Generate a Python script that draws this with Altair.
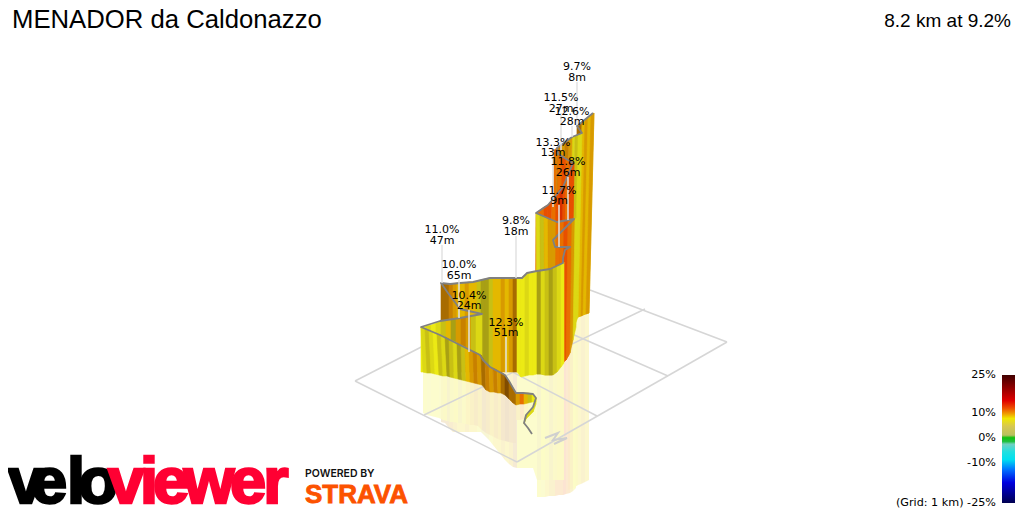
import altair as alt
import pandas as pd

# ---------- colour palette for wall strips (letter = grade/shade class, r* = its reflection) ----------
SHADE_KEYS = list("abcdefghijkl")
SHADE_COLS = ["#ecea14", "#dcd814", "#c8c014", "#a8a014", "#e4b800", "#d89a00",
              "#c88000", "#a86c00", "#804c00", "#e87000", "#e85000", "#d83000"]
REFL_COLS = ["#fbfbc4", "#fbfbc4", "#fafac8", "#f7f5cc", "#fbf6c4", "#f9f0c6",
             "#f7eac8", "#f3e6cc", "#efe0cc", "#fbe6c8", "#fbdfca", "#f9d8cc"]

# ---------- wall sections, far to near: top edge, base edge, reflection end, shades ----------
w1a_tx = [577, 582, 585, 589, 594]
w1a_ty = [126, 122, 120, 117, 113]
w1a_bx = [575, 578, 581, 585, 589]
w1a_by = [318, 317, 316, 314, 313]
w1a_ry = [486, 485, 484, 482, 480]
w1a_s = ["h", "e", "f", "e"]

w1c_tx = [582, 585, 588, 591, 594]
w1c_ty = [133, 120, 117, 115, 113]
w1c_bx = [578, 581, 583, 586, 589]
w1c_by = [317, 316, 315, 314, 313]
w1c_ry = [485, 484, 483, 482, 480]
w1c_s = ["e", "f", "e", "f"]

w1b_tx = [572, 575, 578, 582]
w1b_ty = [137, 136, 135, 133]
w1b_bx = [568, 571, 574, 578]
w1b_by = [350, 340, 327, 317]
w1b_ry = [490, 489, 488, 485]
w1b_s = ["b", "c", "b"]

w2a_tx = [554, 557, 561, 565, 569, 572]
w2a_ty = [150, 148, 146, 143, 140, 137]
w2a_bx = [552, 555, 559, 563, 566, 569]
w2a_by = [360, 360, 360, 360, 360, 355]
w2a_ry = [494, 494, 494, 494, 494, 492]
w2a_s = ["j", "g", "f", "g", "f"]

w2b_tx = [558, 562, 566, 570, 574]
w2b_ty = [154, 156, 158, 161, 163]
w2b_bx = [556, 560, 563, 567, 571]
w2b_by = [360, 362, 362, 356, 340]
w2b_ry = [494, 494, 494, 494, 492]
w2b_s = ["j", "k", "j", "k"]

w2c_tx = [536, 540, 544, 548, 552, 556, 560, 563, 566, 569, 572, 574]
w2c_ty = [213, 210, 207, 205, 200, 194, 189, 187, 180, 173, 167, 163]
w2c_bx = [535, 539, 543, 547, 550, 554, 558, 561, 563, 566, 569, 571]
w2c_by = [360, 360, 360, 360, 360, 360, 360, 360, 362, 356, 348, 340]
w2c_s = ["j", "j", "k", "k", "j", "k", "l", "k", "j", "k", "k"]

w3_tx = [536, 540, 544, 548, 552, 556, 560, 564, 568, 572, 575, 578]
w3_ty = [213, 215, 217, 219, 220, 222, 221, 220, 220, 219, 219, 218]
w3_bx = [537, 541, 545, 549, 552, 555, 559, 563, 566, 570, 573, 576]
w3_by = [374, 374, 375, 375, 375, 372, 367, 363, 360, 353, 340, 327]
w3_ry = [497, 497, 497, 496, 496, 496, 495, 495, 494, 493, 491, 488]
w3_s = ["b", "c", "e", "f", "f", "j", "j", "k", "j", "f", "b"]

w4_tx = [441, 445, 449, 453, 457, 461, 465, 469, 473, 477, 481, 485, 489, 493, 497, 501,
         505, 509, 513, 517, 521, 525, 529, 533, 537, 541, 545, 549, 553, 557, 561, 564]
w4_ty = [283, 284, 284, 284, 283, 283, 283, 282, 282, 281, 280, 279, 278, 278, 278, 278,
         278, 278, 278, 279, 278, 275, 273, 272, 271, 270, 270, 269, 268, 266, 264, 262]
w4_by = [350, 350, 352, 354, 356, 357, 358, 360, 361, 362, 365, 367, 370, 371, 372, 372,
         372, 372, 372, 372, 377, 376, 375, 375, 374, 374, 375, 375, 375, 372, 367, 363]
w4_ry = [422, 423, 428, 432, 432, 432, 432, 432, 432, 432, 432, 436, 440, 445, 450, 455,
         460, 464, 467, 468, 468, 468, 468, 468, 480, 480, 480, 480, 480, 480, 480, 480]
w4_s = ["h", "h", "g", "f", "e", "e", "f", "e", "e", "c", "d", "d", "c", "e", "e", "f",
        "e", "f", "h", "a", "a", "b", "a", "a", "d", "b", "c", "d", "c", "b", "a"]

w5_tx = [421, 426, 431, 436, 441, 446, 451, 456, 461, 466, 471, 476, 482]
w5_ty = [327, 326, 325, 323, 321, 320, 319, 319, 318, 317, 316, 315, 314]
w5_by = [372, 372, 372, 372, 372, 372, 372, 372, 372, 372, 372, 372, 372]
w5_s = ["a", "b", "a", "b", "c", "e", "d", "f", "g", "f", "c", "b"]

f_tx = [421, 425, 429, 433, 437, 441, 445, 449, 453, 457, 461, 465, 469, 473, 477, 481,
        485, 489, 493, 497, 501, 505, 509, 513, 516]
f_ty = [327, 329, 331, 332, 334, 335, 337, 339, 341, 343, 345, 347, 349, 351, 353, 355,
        362, 366, 368, 370, 372, 375, 381, 388, 393]
f_bx = [423, 427, 431, 435, 439, 443, 447, 450, 454, 458, 462, 466, 470, 474, 478, 482,
        486, 490, 494, 498, 501, 505, 509, 513, 516]
f_by = [372, 373, 373, 374, 375, 376, 376, 377, 378, 379, 380, 381, 382, 383, 384, 385,
        390, 392, 392, 393, 393, 395, 399, 403, 405]
f_ry = [413, 415, 416, 417, 418, 420, 421, 422, 422, 423, 423, 424, 425, 425, 426, 430,
        433, 435, 437, 439, 440, 441, 442, 443, 443]
f_s = ["b", "c", "b", "a", "c", "b", "d", "c", "b", "d", "c", "e", "f", "g", "f", "h",
       "g", "f", "g", "f", "h", "i", "h", "h"]

w6_tx = [516, 520, 524, 528, 532, 536]
w6_ty = [393, 393, 393, 393, 394, 398]
w6_by = [405, 404, 404, 403, 402, 402]
w6_ry = [420, 420, 419, 418, 417, 416]
w6_s = ["f", "j", "e", "c", "a"]

w7_tx = [536, 533, 526, 524]
w7_ty = [398, 407, 415, 423]
w7_by = [404, 412, 419, 424]
w7_s = ["b", "b", "c"]

# ---------- the road line ----------
road_x = [532, 528, 524, 526, 533, 536, 533, 523, 516, 513, 509, 505, 490, 483, 480, 460, 440, 421,
          440, 460, 482, 460, 448, 441, 450, 460, 473, 490, 500, 515, 522, 527, 537, 550, 563, 563,
          565, 570, 555, 553, 563, 574, 557, 536, 548, 563, 573, 558, 557, 572, 582, 577, 582, 593]
road_y = [434, 428, 423, 415, 407, 398, 394, 393, 393, 388, 381, 375, 367, 360, 355, 345, 335, 327,
          321, 318, 314, 309, 293, 283, 284, 283, 282, 278, 278, 278, 278, 273, 271, 269, 263, 258,
          250, 247, 247, 240, 230, 219, 222, 213, 205, 187, 163, 154, 148, 137, 133, 126, 122, 113]

# ---------- ground grid ----------
grid_x1 = [355, 517, 727, 590, 424, 597, 668, 355]
grid_y1 = [381, 462, 342, 290, 415, 416, 376, 381]
grid_x2 = [517, 727, 590, 470, 645, 470, 540, 470]
grid_y2 = [462, 342, 290, 300, 309, 350, 320, 322]

north_x = [545, 558, 553, 567, 554]
north_y = [438, 433, 440, 438, 444]

# ---------- climb labels ----------
lab_x = [577, 561, 572, 553, 568, 559, 516, 442, 459, 469, 506]
lab_grade = ["9.7%", "11.5%", "12.6%", "13.3%", "11.8%", "11.7%", "9.8%", "11.0%", "10.0%", "10.4%", "12.3%"]
lab_len = ["8m", "27m", "28m", "13m", "26m", "9m", "18m", "47m", "65m", "24m", "51m"]
lab_y1 = [67, 98, 112, 143, 162, 191, 221, 230, 265, 296, 323]
lab_y2 = [78, 109, 122, 153, 173, 201, 232, 241, 276, 306, 333]
stem_top = [82, 113, 126, 157, 177, 205, 236, 245, 280, 310, 337]
stem_bot = [125, 150, 137, 207, 220, 247, 278, 283, 318, 352, 373]

# ---------- colour bar ----------
bar_ticks = ["25%", "10%", "0%", "-10%", "(Grid: 1 km) -25%"]
bar_tick_y = [375, 413, 438, 463, 503]
bar_stops = [(0.0, "#400000"), (0.10, "#900000"), (0.20, "#e00000"), (0.26, "#ee5000"),
             (0.30, "#f09800"), (0.34, "#f0e800"), (0.40, "#d8c850"), (0.47, "#b8c060"),
             (0.49, "#10c010"), (0.52, "#20c040"), (0.54, "#70d0c0"), (0.60, "#20e0e0"),
             (0.66, "#00e0f0"), (0.74, "#0070ff"), (0.84, "#0000e0"), (1.0, "#000050")]

# ---------- logo letters ----------
velo_letters = ["v", "e", "l", "o"]
velo_x = [26, 49, 76, 98]
viewer_letters = ["v", "i", "e", "w", "e", "r"]
viewer_x = [126, 149, 171, 209, 248, 276]


def strips(tx, ty, bx, by, shades, prefix=""):
    feats = []
    for i, s in enumerate(shades):
        ring = [[tx[i], ty[i]], [tx[i + 1], ty[i + 1]], [bx[i + 1], by[i + 1]], [bx[i], by[i]], [tx[i], ty[i]]]
        feats.append({"type": "Feature", "properties": {"s": prefix + s},
                      "geometry": {"type": "Polygon", "coordinates": [ring]}})
    return feats


shade_scale = alt.Scale(domain=SHADE_KEYS + ["r" + k for k in SHADE_KEYS], range=SHADE_COLS + REFL_COLS)
X = lambda f="x": alt.X(f"{f}:Q", scale=alt.Scale(domain=[8, 1016], nice=False, zero=False), axis=None)
Y = lambda f="y": alt.Y(f"{f}:Q", scale=alt.Scale(domain=[504, 8], nice=False, zero=False), axis=None)


def wall_layer(feats):
    return alt.Chart(alt.Data(values=feats)).mark_geoshape(strokeWidth=0.6).encode(
        color=alt.Color("properties.s:N", scale=shade_scale, legend=None),
        stroke=alt.Stroke("properties.s:N", scale=shade_scale, legend=None),
    ).project(type="identity", scale=1, translate=[-8, -8])


def refl_layer(feats):
    return alt.Chart(alt.Data(values=feats)).mark_geoshape(strokeWidth=0, fillOpacity=0.85).encode(
        color=alt.Color("properties.s:N", scale=shade_scale, legend=None),
    ).project(type="identity", scale=1, translate=[-8, -8])


def text_layer(df, **kw):
    return alt.Chart(df).mark_text(**kw).encode(x=X(), y=Y(), text="t:N")


# reflections
refl = []
for bx, by, ry, s in [(w1a_bx, w1a_by, w1a_ry, w1a_s), (w1b_bx, w1b_by, w1b_ry, w1b_s),
                      (w3_bx, w3_by, w3_ry, w3_s), (w4_tx, w4_by, w4_ry, w4_s),
                      (f_bx, f_by, f_ry, f_s), (w6_tx, w6_by, w6_ry, w6_s)]:
    refl.append(refl_layer(strips(bx, by, bx, ry, s, "r")))

grid = alt.Chart(pd.DataFrame({"x": grid_x1, "y": grid_y1, "x2": grid_x2, "y2": grid_y2})).mark_rule(
    color="#d6d6d6", strokeWidth=1.5).encode(x=X(), y=Y(), x2="x2:Q", y2="y2:Q")
north = alt.Chart(pd.DataFrame({"x": north_x, "y": north_y, "i": list(range(len(north_x)))})).mark_line(
    color="#cfcfcf", strokeWidth=2).encode(x=X(), y=Y(), order="i:Q")

walls = [
    wall_layer(strips(w1a_tx, w1a_ty, w1a_bx, w1a_by, w1a_s)),
    wall_layer(strips(w1c_tx, w1c_ty, w1c_bx, w1c_by, w1c_s)),
    wall_layer(strips(w1b_tx, w1b_ty, w1b_bx, w1b_by, w1b_s)),
    wall_layer(strips(w2a_tx, w2a_ty, w2a_bx, w2a_by, w2a_s)),
    wall_layer(strips(w2b_tx, w2b_ty, w2b_bx, w2b_by, w2b_s)),
    wall_layer(strips(w2c_tx, w2c_ty, w2c_bx, w2c_by, w2c_s)),
    wall_layer(strips(w3_tx, w3_ty, w3_bx, w3_by, w3_s)),
    wall_layer(strips(w4_tx, w4_ty, w4_tx, w4_by, w4_s)),
    wall_layer(strips(w5_tx, w5_ty, w5_tx, w5_by, w5_s)),
    wall_layer(strips(f_tx, f_ty, f_bx, f_by, f_s)),
    wall_layer(strips(w6_tx, w6_ty, w6_tx, w6_by, w6_s)),
    wall_layer(strips(w7_tx, w7_ty, w7_tx, w7_by, w7_s)),
]

road = alt.Chart(pd.DataFrame({"x": road_x, "y": road_y, "i": list(range(len(road_x)))})).mark_line(
    color="#808080", strokeWidth=1.8, strokeJoin="round").encode(x=X(), y=Y(), order="i:Q")

stems = alt.Chart(pd.DataFrame({"x": lab_x, "y": stem_top, "y2": stem_bot})).mark_rule(
    color="#e2e2e2", strokeWidth=1.5).encode(x=X(), y=Y(), y2="y2:Q")

lab_font = dict(font="DejaVu Sans", fontSize=11, color="#000000", align="center", baseline="middle")
lab1 = text_layer(pd.DataFrame({"x": lab_x, "y": lab_y1, "t": lab_grade}), **lab_font)
lab2 = text_layer(pd.DataFrame({"x": lab_x, "y": lab_y2, "t": lab_len}), **lab_font)

title = text_layer(pd.DataFrame({"x": [12], "y": [28], "t": ["MENADOR da Caldonazzo"]}),
                   font="Liberation Sans", fontSize=25.7, color="#000000", align="left", baseline="alphabetic")
sub = text_layer(pd.DataFrame({"x": [1011], "y": [27], "t": ["8.2 km at 9.2%"]}),
                 font="Liberation Sans", fontSize=19, color="#000000", align="right", baseline="alphabetic")

bar = alt.Chart(pd.DataFrame({"x": [1002], "x2": [1015], "y": [375], "y2": [503]})).mark_rect(
    color=alt.LinearGradient(gradient="linear", x1=0, x2=0, y1=0, y2=1,
                             stops=[alt.GradientStop(offset=o, color=c) for o, c in bar_stops])
).encode(x=X(), x2="x2:Q", y=Y(), y2="y2:Q")
bar_lab = text_layer(pd.DataFrame({"x": [996] * 5, "y": bar_tick_y, "t": bar_ticks}),
                     font="DejaVu Sans", fontSize=11.2, color="#000000", align="right", baseline="middle")

velo_df = pd.DataFrame({"x": velo_x, "y": [503] * len(velo_x), "t": velo_letters})
viewer_df = pd.DataFrame({"x": viewer_x, "y": [503] * len(viewer_x), "t": viewer_letters})
logo_font = dict(font="Liberation Sans", fontSize=65, fontWeight="bold", align="center", baseline="alphabetic", strokeWidth=2.5)
velo = text_layer(velo_df, color="#000000", stroke="#000000", **logo_font)
viewer = text_layer(viewer_df, color="#ff0033", stroke="#ff0033", **logo_font)
powered = text_layer(pd.DataFrame({"x": [305], "y": [474], "t": ["POWERED BY"]}),
                     font="Inter", fontSize=10.5, fontWeight=600, color="#111111", align="left", baseline="middle")
strava = text_layer(pd.DataFrame({"x": [305], "y": [503], "t": ["STRAVA"]}),
                    font="Liberation Sans", fontSize=26, fontWeight="bold", color="#fc5200", stroke="#fc5200",
                    strokeWidth=0.8, align="left", baseline="alphabetic")

chart = alt.layer(*refl, grid, north, *walls, road, stems, lab1, lab2, title, sub, bar, bar_lab,
                  velo, viewer, powered, strava).properties(
    width=1008, height=496, padding={"left": 0, "top": 0, "right": 0, "bottom": 8},
    autosize=alt.AutoSizeParams(type="none"), background="#ffffff"
).configure_view(strokeWidth=0)

chart.save("out.html", embed_options={"renderer": "svg", "actions": False})
